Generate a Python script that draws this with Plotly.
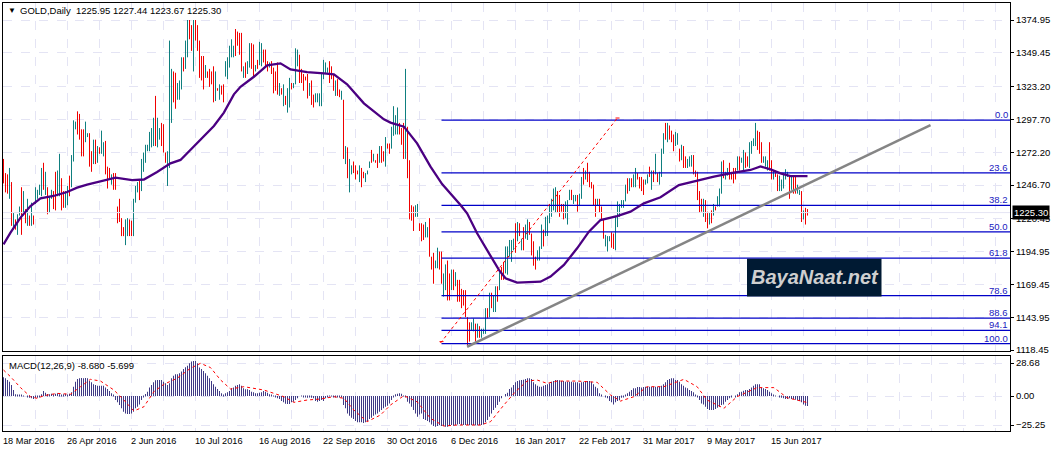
import plotly.graph_objects as go

# daily bars, one high / low / direction per bar (R = down bar, G = up bar)
highs = [
    1267,1256,1255,1260,1249,1225,1220,1224,1230,1245,
    1242,1228,1236,1223,1233,1223,1245,1243,1247,1260,
    1264,1257,1245,1238,1243,1242,1257,1258,1271,1252,
    1242,1242,1246,1254,1270,1297,1296,1304,1302,1290,
    1290,1296,1287,1287,1273,1282,1282,1277,1276,1289,
    1280,1281,1261,1260,1255,1256,1256,1230,1236,1221,
    1214,1220,1221,1220,1219,1236,1246,1249,1250,1267,
    1272,1278,1278,1288,1291,1299,1316,1299,1291,1295,
    1294,1272,1273,1359,1337,1335,1334,1326,1328,1346,
    1346,1359,1375,1375,1371,1375,1375,1371,1359,1347,
    1347,1340,1335,1337,1335,1339,1335,1322,1325,1324,
    1325,1343,1346,1355,1360,1355,1368,1366,1365,1365,
    1339,1342,1343,1357,1357,1356,1340,1344,1358,1357,
    1352,1352,1343,1342,1343,1338,1335,1342,1326,1322,
    1325,1316,1322,1330,1326,1326,1353,1352,1348,1337,
    1333,1331,1333,1326,1328,1317,1318,1318,1318,1333,
    1344,1342,1338,1343,1339,1333,1328,1329,1321,1320,
    1313,1277,1276,1267,
    1262,1265,1262,1258,1262,1260,1257,1256,1258,1265,
    1274,1271,1266,1271,1277,1277,1273,1284,1279,1279,
    1292,1308,1301,1307,1295,1291,1295,1337,1292,1266,
    1231,1230,1231,1232,1217,1217,1216,1218,1214,1221,
    1191,1194,1188,1198,1195,1195,1178,1185,1188,1178,
    1181,1181,1179,1173,1173,1166,1165,1165,1144,1140,
    1140,1143,1139,1139,1137,1135,1135,1151,1151,1163,
    1163,1161,1168,1168,1179,1183,1187,1199,1199,1204,
    1204,1205,1217,1218,1217,1205,1214,1216,1220,1218,
    1209,1203,1191,1196,1199,1216,1212,1222,1223,1232,
    1236,1244,1245,1242,1239,1232,1232,1234,1235,1243,
    1243,1239,1239,1239,1240,1253,1260,1258,1264,1257,
    1249,1247,1236,1236,1236,1230,1220,1208,1207,1207,
    1210,1209,1222,1234,1232,1235,1235,1247,1252,1252,
    1252,1255,1260,1256,1253,1253,1251,1251,1255,1261,
    1258,1258,1271,1256,1257,1275,1287,1295,1295,1293,
    1289,1286,1288,1287,1275,1278,1277,1269,1267,1269,
    1270,1270,1258,1257,1242,
    1236,1236,1235,1226,1225,1227,1232,1230,1238,1244,
    1265,1266,1257,1260,1264,1257,1260,1260,1269,1269,
    1268,1274,1272,1269,1280,1281,1283,1295,1289,1288,
    1280,1269,1269,1266,1280,1266,1258,1258,1255,1254,
    1251,1256,1259,1257,1254,1254,1254,1254,1247,1243,
    1242,1227,1229,1228,
]
lows = [
    1248,1241,1240,1236,1215,1212,1212,1208,1223,1208,
    1223,1217,1215,1215,1215,1216,1232,1236,1239,1238,
    1243,1239,1224,1225,1236,1228,1227,1238,1238,1227,
    1229,1229,1231,1238,1245,1265,1290,1286,1282,1269,
    1269,1280,1284,1261,1257,1263,1263,1264,1271,1271,
    1269,1255,1244,1252,1247,1243,1243,1217,1218,1207,
    1207,1200,1207,1207,1207,1207,1233,1241,1235,1242,
    1257,1264,1273,1273,1276,1277,1277,1276,1282,1277,
    1272,1264,1246,1260,1295,1311,1306,1313,1313,1321,
    1335,1337,1346,1360,1351,1335,1359,1351,1330,1328,
    1321,1330,1330,1323,1325,1311,1312,1320,1313,1317,
    1311,1331,1329,1338,1346,1346,1347,1355,1348,1335,
    1330,1330,1333,1338,1337,1330,1335,1337,1340,1339,
    1342,1339,1335,1338,1333,1318,1320,1317,1316,1317,
    1308,1309,1303,1307,1321,1322,1325,1339,1326,1326,
    1320,1328,1314,1316,1309,1307,1311,1311,1308,1308,
    1329,1333,1334,1326,1329,1320,1316,1316,1315,1313,
    1267,1263,1252,1241,
    1255,1256,1251,1255,1249,1245,1252,1249,1255,1260,
    1264,1265,1264,1260,1264,1264,1265,1261,1275,1271,
    1275,1285,1286,1286,1286,1278,1267,1267,1252,1220,
    1219,1211,1222,1222,1211,1203,1204,1206,1206,1191,
    1181,1170,1182,1182,1181,1170,1160,1165,1157,1157,
    1165,1165,1168,1156,1156,1151,1153,1144,1122,1125,
    1134,1133,1125,1128,1128,1128,1131,1131,1143,1144,
    1151,1148,1148,1156,1165,1173,1173,1178,1177,1191,
    1187,1196,1194,1203,1207,1196,1196,1205,1204,1208,
    1192,1184,1181,1188,1188,1197,1199,1207,1207,1217,
    1222,1227,1225,1225,1222,1226,1220,1221,1216,1235,
    1235,1232,1234,1226,1231,1236,1247,1251,1249,1245,
    1244,1231,1222,1231,1225,1220,1205,1199,1195,1203,
    1198,1197,1196,1214,1222,1229,1229,1234,1240,1242,
    1245,1245,1245,1251,1244,1242,1239,1247,1248,1253,
    1243,1249,1255,1249,1247,1253,1271,1282,1280,1282,
    1280,1273,1277,1278,1265,1266,1260,1260,1260,1261,
    1261,1255,1253,1235,1225,
    1226,1222,1218,1213,1216,1217,1223,1227,1230,1230,
    1240,1252,1251,1254,1251,1251,1248,1251,1258,1258,
    1264,1258,1260,1261,1260,1271,1277,1277,1274,1271,
    1264,1264,1261,1258,1258,1251,1251,1253,1242,1242,
    1242,1244,1251,1253,1236,1243,1240,1240,1240,1239,
    1218,1220,1216,1223,
]
bar_dirs = (
    "RRRGRGRGGR" "GRGRGRGGGG" "RGRGGRRGGR" "RGGRGGGRRR" "RGGRRGRGRG"
    "GRRRGRRRRR" "RGGRRGGGRG" "GGGGGGRGGR" "RRGGGRRGGG" "RGGRRGRRRR"
    "RGRRRRGRGR" "RGGGGGRRRR" "GRGGRRGRGG" "RRRGRRRRGR" "GRGGRGGGRR"
    "RRRGRRGGGG" "GGGRRRGRRG" "RGRG"
    "GRRRGRRGGG" "RGRRGRRGRR" "GGGGRRRGRR" "RRGGRRRGGR" "RRGGRRGGRR"
    "GRGRRRRRRR" "GGRGRGGGRG" "RGGRGRRGGG" "GGRGRGRGGR" "RRRGGGRGGG"
    "GGGRRRRGGG" "RGGRGGRGRR" "RRRGRRRGGG" "RRGGGGGGRG" "RGGRRRRGGR"
    "GRGRGGGRGR" "RRGGRGRRGG" "GRRRR"
    "RGRRGRGRGG" "GRGGRRRRGR" "GGRRGGGGRR" "RGGGRRGRRG" "GGGGRGRRGG"
    "RGRR"
)

# moving average, read every few bars
ma_x = [0,3.5,8.5,13.5,18.5,25,31.8,36.8,41.8,48.5,56,64.3,70.2,76.8,83.5,88.5,93.5,98.5,
        105.2,110.2,115.2,118.5,125.2,131.8,138.5,143.5,151.8,160.2,165.2,171.8,
        180.2,190.2,193.5,200.2,206.8,213.5,219.3,228.5,231.8,236.8,243.5,247.7,251,256.8,
        268.5,273.5,280.2,286.8,292.7,298.5,306.8,313.5,320.2,328.5,337.7,346.8,
        355.2,365.2,373.5,378.5,383.5,388.5,393.5,402]
ma_y = [1200.6,1209.7,1221.4,1230.4,1236.4,1238.2,1241.3,1244.7,1247,1249.8,1252.4,1250.6,1251,1256.8,1263.6,1266.2,1274,1282.2,
        1292.6,1303,1317.2,1323.1,1330.9,1339.7,1341.3,1336.6,1334.5,1333.5,1332.7,1325,
        1310.2,1297.8,1295.2,1292.1,1279.1,1261,1247.5,1231.2,1224.7,1209.2,1191,1180.7,1174.2,1170.8,
        1171.6,1175.5,1184.6,1197.5,1210.5,1219.5,1222.6,1226,1232.5,1237.2,1246.7,1250.1,
        1253.2,1256.3,1258.4,1261.2,1258.9,1255.8,1253.7,1253.7]

# MACD histogram, one value per bar
macd = [
    16.2,15.4,13.9,12.5,9.6,5.2,1.5,.9,.9,.6,.3,0,-.6,-1.5,-2,-2.6,-1.5,-1.5,-.6,1.5,
    4.4,2.9,1.7,1.5,2,1.5,2,2.3,1.5,.9,1.5,2,.9,2,3.2,8.1,12.5,14.8,15.4,15.7,
    15.4,15.7,15.4,13,11.9,10.2,9.6,9,9,9,9,7.3,6.1,4.4,2.3,.9,-3.5,-5.5,-7.8,-10.7,
    -13.6,-15.1,-15.7,-15.7,-15.1,-13.6,-10.7,-9.3,-7.3,-3.5,-.6,1.7,3.8,7.3,9.6,11.9,13.6,13.9,13.9,13.9,
    12.5,11,9.6,11,15.4,17.7,18.9,18.9,19.7,21.2,23.5,24.9,26.4,28.4,29.9,30.5,30.5,28.4,24.7,23.5,
    21.8,19.7,17.7,15.4,13,10.2,8.1,6.1,4.4,2.3,.9,2.3,3.2,4.4,6.7,7.3,9,9.6,10.2,9,
    6.7,5.8,5.8,5.2,3.8,3.2,2.3,2.3,2.9,3.2,4.4,3.8,2.9,1.5,.9,.3,-.6,-2,-2.6,-4.4,
    -5.5,-6.7,-7,-7,-5.5,-4.9,-3.5,-2,0,-.3,-.6,-1.2,-1.5,-.6,-1.5,-2,-4.4,-4.9,-4.4,-3.5,
    -4.4,-2,-.6,.3,-.3,-.6,-.9,-.6,-.6,-.6,-7.8,-10.7,-15.1,-17.1,-18.9,-20,-21.8,-22.9,-22.9,-22.9,
    -23.5,-22.9,-21.8,-20,-18.9,-17.1,-16,-15.1,-13.6,-12.2,-10.7,-9.3,-8.4,-6.4,-3.5,-.6,1.5,2,2.3,2,
    .3,-.6,-4.9,-6.4,-9.3,-12.2,-15.1,-18,-16,
    -15.1,-20,-20.9,-21.8,-22.9,-24.7,-26.1,-26.7,-26.1,-25.2,-26.1,-26.1,-26.7,-26.7,-26.1,-25.2,-25.8,-25.2,-24.7,-24.4,
    -25.2,-25.2,-25.2,-25.2,-25.5,-25.2,-25.2,-25.5,-25.5,-25.2,-25.2,-24.7,-22.9,-20.9,-18,-15.1,-12.2,-10.2,-7.8,-4.9,
    -2,0,1.7,2.9,6.1,7.3,9.6,11.9,13,13.6,13.9,14.2,14.8,15.4,15.4,14.8,11.9,10.2,9,8.1,
    8.1,9,9.6,10.2,11,12.5,13,13.9,13.9,13.6,13,13,12.5,12.5,12.5,12.5,11.9,11.9,11.9,11,
    11.9,12.5,13,13,13,12.5,10.2,8.1,6.7,2.3,.9,0,-.6,-2,-4.4,-5.5,-7.3,-5.5,-4.4,-3.5,
    -1.5,-.6,.9,2.3,3.8,5.2,6.7,6.7,7.8,7.8,7.3,7.8,8.1,7.8,8.1,8.1,8.1,8.1,8.1,8.1,
    9,10.2,11.9,13.9,14.8,15.4,15.4,13.9,13.9,12.5,10.2,9,7.3,6.7,5.2,4.4,3.2,.9,-.6,-3.5,
    -6.4,-7.3,-9.3,-11.3,-12.2,-12.2,-12.2,-11.3,-10.2,-9.3,-7.8,-7.3,-4.9,-3.5,-2,-.6,0,-.6,1.5,3.2,
    3.8,4.6,5.2,5.2,6.1,7.3,9,10.2,10.2,10.2,7.3,6.7,6.1,5.2,3.8,2.3,.9,.3,0,-.6,
    -1.5,-2,-2.6,-2.6,-2,-2.6,-2.6,-3.2,-3.8,-4.4,-5.5,-7.3,-8.4,-8.7,
]

# signal line, read every few bars
signal_x = [0,3.5,8.5,13.5,16.8,20.2,26.8,33.5,38.5,43.5,48.5,55.2,60.2,65.2,70.2,75.2,80.2,86.8,93.5,98.5,
            103.5,108.5,113.5,120.2,130.2,140.2,145.2,151.8,158.5,165.2,170.2,175.2,181.8,188.5,193.5,200.2,206.8,
            213.5,220.2,226.8,238.5,243.5,250.2,256,261.8,266.8,271.8,276.8,286.8,296.8,303.5,308.5,315.2,321.8,
            330.2,340.2,346.8,351.8,360.2,366.8,376.8,385.2,391.8,402]
signal_y = [22.6,16.8,7.3,-.6,-2,.3,2.3,1.5,8.1,14.5,13,5.2,-3.5,-13,-9.3,3.8,10.2,15.4,24.1,28.4,
            24.7,14,6.1,8.1,5.2,-.6,-5.5,-3.5,-2.6,-.6,-2,-12.2,-22.3,-16.5,-7.8,.3,-5,
            -19.4,-26.1,-25.2,-25.2,-22.3,-7.8,3.8,13,13.9,11,13,13,11.9,.9,-4.4,-.6,8.1,
            8.1,14.5,8.1,-3.5,-10.7,-.6,7.3,7.3,-1.5,-5.7]

# fibonacci retracement and trend lines
fib_levels = [0.0, 23.6, 38.2, 50.0, 61.8, 78.6, 88.6, 94.1, 100.0]
fib_top = 1297.2
fib_bottom = 1123.5
fib_start = 219
fib_end = 503.25
fib_trend_x = [218.5, 306.8]
fib_trend_y = [1123.9, 1298.5]
fib_caps = [([218, 220], [1125, 1125]), ([306, 308], [1298.8, 1298.8])]
trend_x = [231.8, 463.5]
trend_y = [1121, 1293.3]

price_ticks = [1374.95, 1349.45, 1323.20, 1297.70, 1272.20, 1246.70, 1220.45, 1194.95, 1169.45, 1143.95, 1118.45]
macd_ticks = [28.68, 0.00, -25.25]
date_labels = ["18 Mar 2016", "26 Apr 2016", "2 Jun 2016", "10 Jul 2016", "16 Aug 2016", "22 Sep 2016", "30 Oct 2016",
               "6 Dec 2016", "16 Jan 2017", "22 Feb 2017", "31 Mar 2017", "9 May 2017", "15 Jun 2017"]
last_price = 1225.30

W, H = 1053, 452
FONT = "Liberation Sans"
GRID = "#E4E4F4"
BLUE = "#0000C8"
TEXT = "#000000"


def bar_lines(direction):
    xs, ys = [], []
    for i, (hi, lo, d) in enumerate(zip(highs, lows, bar_dirs)):
        if d == direction:
            xs += [i, i, None]
            ys += [lo, hi, None]
    return xs, ys


fig = go.Figure()

# price panel
for direction, color in (("G", "#0F7F7F"), ("R", "#F00000")):
    xs, ys = bar_lines(direction)
    fig.add_trace(go.Scatter(x=xs, y=ys, mode="lines", line=dict(color=color, width=1)))

fig.add_trace(go.Scatter(x=[-0.25, fib_end], y=[last_price, last_price], mode="lines", line=dict(color=GRID, width=1)))
for level in fib_levels:
    price = fib_top - (fib_top - fib_bottom) * level / 100
    fig.add_trace(go.Scatter(x=[fib_start, fib_end], y=[price, price], mode="lines", line=dict(color=BLUE, width=1.3)))
fig.add_trace(go.Scatter(x=fib_trend_x, y=fib_trend_y, mode="lines", line=dict(color="#FF0000", width=1, dash="dot")))
for cap_x, cap_y in fib_caps:
    fig.add_trace(go.Scatter(x=cap_x, y=cap_y, mode="lines", line=dict(color="#FF0000", width=1)))
fig.add_trace(go.Scatter(x=ma_x, y=ma_y, mode="lines", line=dict(color="#4B0082", width=2.3)))
fig.add_trace(go.Scatter(x=trend_x, y=trend_y, mode="lines", line=dict(color="#858585", width=2.5)))

# macd panel
fig.add_trace(go.Bar(x=list(range(len(macd))), y=macd, width=0.4, marker=dict(color="#3F3A85", line_width=0),
                     xaxis="x2", yaxis="y2"))
fig.add_trace(go.Scatter(x=signal_x, y=signal_y, mode="lines", line=dict(color="#FF0000", width=1, dash="dot"),
                         xaxis="x2", yaxis="y2"))

grid_ticks = list(range(0, 504, 16))
x_style = dict(range=[-0.25, 503.25], domain=[3 / W, 1010 / W], tickvals=grid_ticks, showticklabels=False,
               ticks="", showgrid=True, gridcolor=GRID, griddash="dash", gridwidth=1, zeroline=False,
               showline=True, linecolor="black", linewidth=1, mirror=True)
y_style = dict(side="right", ticks="outside", ticklen=3, tickcolor="black", showgrid=True, gridcolor=GRID,
               griddash="dash", gridwidth=1, zeroline=False, showline=True, linecolor="black", linewidth=1,
               mirror=True, tickfont=dict(family=FONT, size=9.5, color=TEXT), tickformat=".2f")

annotations = [
    dict(x=6 / W, y=1 - 10 / H, xref="paper", yref="paper", xanchor="left", yanchor="middle", showarrow=False,
         text="▼", font=dict(family=FONT, size=8, color="black")),
    dict(x=18 / W, y=1 - 10 / H, xref="paper", yref="paper", xanchor="left", yanchor="middle", showarrow=False,
         text="GOLD,Daily  1225.95 1227.44 1223.67 1225.30", font=dict(family=FONT, size=9.5, color=TEXT)),
    dict(x=7 / W, y=1 - 365 / H, xref="paper", yref="paper", xanchor="left", yanchor="middle", showarrow=False,
         text="MACD(12,26,9) -8.680 -5.699", font=dict(family=FONT, size=9.5, color=TEXT)),
    dict(x=1012 / W, y=last_price, xref="paper", yref="y", xanchor="left", yanchor="middle", showarrow=False,
         text=f"{last_price:.2f}", bgcolor="black", borderpad=1, font=dict(family=FONT, size=9.5, color="white")),
    dict(x=405.5, y=1175, xref="x", yref="y", xanchor="center", yanchor="middle", showarrow=False,
         text="<b><i>BayaNaat.net</i></b>", font=dict(family=FONT, size=20, color="#CFCFCF")),
]
for level in fib_levels:
    price = fib_top - (fib_top - fib_bottom) * level / 100
    annotations.append(dict(x=1009 / W, y=price, xref="paper", yref="y", xanchor="right", yanchor="bottom",
                            showarrow=False, text=f"{level:.1f}", yshift=-1, borderpad=0,
                            font=dict(family=FONT, size=9.5, color="#2020C0")))
for i, label in enumerate(date_labels):
    annotations.append(dict(x=i * 32, y=1 - 441 / H, xref="x2", yref="paper", xanchor="left", yanchor="middle",
                            showarrow=False, text=label, xshift=-3, font=dict(family=FONT, size=9.2, color=TEXT)))

fig.update_layout(
    width=W, height=H, margin=dict(l=0, r=0, t=0, b=0, pad=0, autoexpand=False), autosize=False,
    paper_bgcolor="white", plot_bgcolor="white", showlegend=False, barmode="overlay",
    xaxis=dict(anchor="y", **x_style),
    xaxis2=dict(anchor="y2", **x_style),
    yaxis=dict(anchor="x", range=[1117.7, 1388.6], domain=[1 - 351 / H, 1 - 2.5 / H], tickvals=price_ticks, **y_style),
    yaxis2=dict(anchor="x2", range=[-30.4, 35.2], domain=[1 - 431 / H, 1 - 355.5 / H], tickvals=macd_ticks, **y_style),
    annotations=annotations,
    shapes=[dict(type="rect", xref="x", yref="y", x0=371.75, x1=439, y0=1160, y1=1189.5,
                 fillcolor="#001A33", line_width=0, layer="above")],
)

fig.write_html("out.html", config={"displayModeBar": False},
               post_script="document.body.style.margin='0';document.body.style.overflow='hidden';")
